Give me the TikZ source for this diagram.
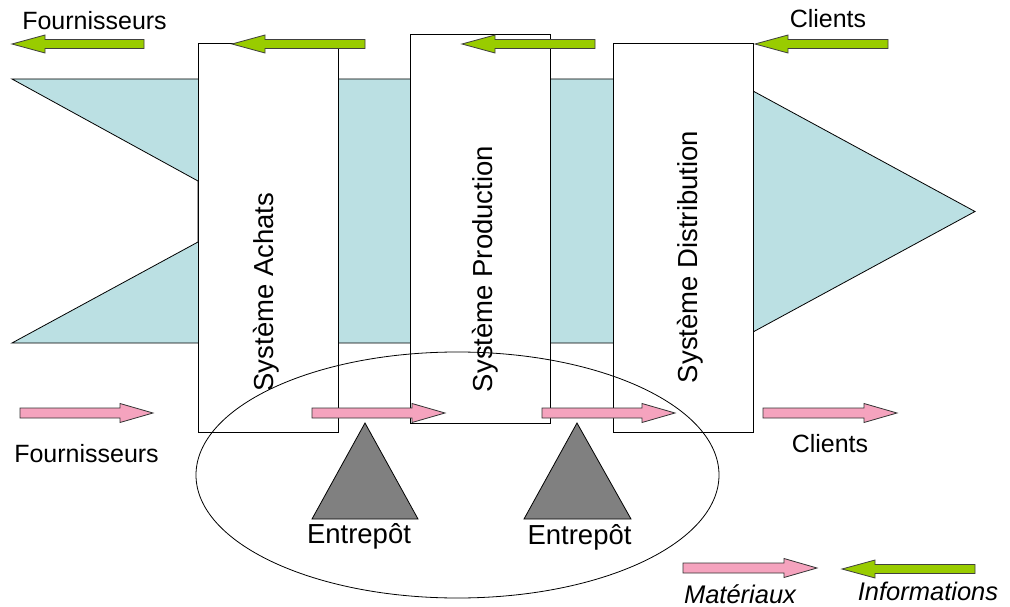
\documentclass[tikz,border=0pt]{standalone}
\usepackage{fontspec}
\setmainfont{Liberation Sans}
\definecolor{bandblue}{HTML}{BBE0E3}
\definecolor{infogreen}{HTML}{99CC00}
\definecolor{matpink}{HTML}{F5A3BE}
\definecolor{depotgray}{HTML}{808080}
\newcommand\matarrow[3]{% tail x, tip x, y
  \draw[matstyle] (#1,{#3-5}) -- ({#2-33},{#3-5}) -- ({#2-33},{#3-9.5}) -- (#2,#3)
    -- ({#2-33},{#3+9.5}) -- ({#2-33},{#3+5}) -- (#1,{#3+5}) -- cycle;}
\newcommand\infarrow[3]{% tip x, tail x, y
  \draw[infstyle] (#2,{#3-4.5}) -- ({#1+33},{#3-4.5}) -- ({#1+33},{#3-9}) -- (#1,#3)
    -- ({#1+33},{#3+9}) -- ({#1+33},{#3+4.5}) -- (#2,{#3+4.5}) -- cycle;}
\begin{document}
\begin{tikzpicture}[x=1pt,y=-1pt,
  matstyle/.style={fill=matpink,draw=black!80,line width=0.8pt},
  infstyle/.style={fill=infogreen,draw=black!75,line width=0.8pt},
  sysbox/.style={fill=white,draw=black,line width=1pt},
  depot/.style={fill=depotgray,draw=black,line width=0.8pt},
  lbl/.style={font=\fontsize{25}{30}\selectfont,inner sep=0pt,anchor=base},
  big/.style={font=\fontsize{27.5}{33}\selectfont,inner sep=0pt},
  ]
\useasboundingbox (0,0) rectangle (1010,607);
% flow band
\draw[fill=bandblue,draw=black,line width=0.8pt]
  (12,79) -- (753,79) -- (753,91) -- (975,211.5) -- (753,332) -- (753,343)
  -- (12,343) -- (198,242) -- (198,181) -- cycle;
% systems
\draw[sysbox] (198,44) rectangle (338,432);
\draw[sysbox] (410,35) rectangle (550,423);
\draw[sysbox] (613,44) rectangle (753,432);
\node[big,rotate=90] (achats) at (266,292) {Système Achats};
\node[big,rotate=90] (prod) at (485,269) {Système Production};
\node[big,rotate=90] (distr) at (690,257) {Système Distribution};
% ellipse
\draw[line width=0.8pt] (457.5,475) ellipse [x radius=261.5, y radius=123];
% information arrows
\infarrow{12}{144}{44}
\infarrow{232}{365}{44}
\infarrow{462}{595}{44}
\infarrow{755}{888}{44}
% material arrows
\matarrow{20}{153}{413}
\matarrow{312}{445}{413}
\matarrow{542}{675}{413}
\matarrow{763}{897}{413}
% warehouses
\draw[depot] (365,423) -- (418,519) -- (312,519) -- cycle;
\draw[depot] (577,423) -- (631,519) -- (524,519) -- cycle;
% labels
\node[lbl] (fourtop) at (94.5,30) {Fournisseurs};
\node[lbl] (clitop) at (828,28) {Clients};
\node[lbl] (fourbot) at (86.5,462) {Fournisseurs};
\node[lbl] (clibot) at (830,452) {Clients};
\node[big,anchor=base] (ent1) at (359,543) {Entrepôt};
\node[big,anchor=base] (ent2) at (579.5,544) {Entrepôt};
% legend
\matarrow{683}{817}{568}
\infarrow{842}{975}{569}
\node[lbl,font=\fontsize{25.5}{30}\selectfont\itshape] (mat) at (740,603) {Matériaux};
\node[lbl,font=\fontsize{25.5}{30}\selectfont\itshape] (info) at (928,600) {Informations};
\end{tikzpicture}
\end{document}
